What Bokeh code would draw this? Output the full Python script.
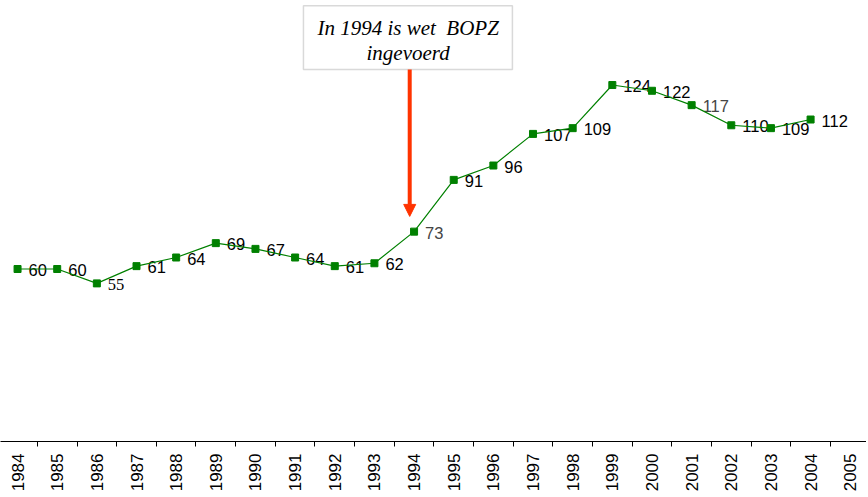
from bokeh.plotting import figure
from bokeh.models import (ColumnDataSource, Range1d, FixedTicker, BoxAnnotation,
                          Label, Arrow, NormalHead)
from bokeh.embed import file_html
from bokeh.resources import INLINE
import math

years = ["1984", "1985", "1986", "1987", "1988", "1989", "1990", "1991", "1992", "1993",
         "1994", "1995", "1996", "1997", "1998", "1999", "2000", "2001", "2002", "2003",
         "2004", "2005"]
values = [60, 60, 55, 61, 64, 69, 67, 64, 61, 62, 73, 91, 96, 107, 109, 124, 122, 117,
          110, 109, 112]

grey_labels = {"1994", "2001"}
serif_labels = {"1986"}

xs = list(range(len(values)))
src = ColumnDataSource(dict(
    x=xs,
    y=values,
    txt=[str(v) for v in values],
    col=["#454545" if years[i] in grey_labels else "#000000" for i in xs],
    font=["Liberation Serif" if years[i] in serif_labels else "Liberation Sans" for i in xs],
))

p = figure(frame_width=866, frame_height=441, output_backend="svg", toolbar_location=None,
           x_range=Range1d(-0.43, 21.41), y_range=Range1d(0, 153.4),
           min_border=0, min_border_left=0, min_border_right=0, min_border_top=0,
           min_border_bottom=0)
p.outline_line_color = None
p.xgrid.visible = False
p.ygrid.visible = False
p.yaxis.visible = False
p.background_fill_color = "white"

ax = p.xaxis[0]
ax.ticker = FixedTicker(ticks=list(range(len(years))),
                        minor_ticks=[i + 0.5 for i in range(-1, len(years))])
ax.major_label_overrides = {i: y for i, y in enumerate(years)}
ax.major_label_orientation = math.pi / 2
ax.major_tick_line_color = None
ax.major_tick_out = 5
ax.major_tick_in = 0
ax.minor_tick_line_color = "black"
ax.minor_tick_out = 5
ax.minor_tick_in = 0
ax.major_label_standoff = 7
ax.major_label_text_font = "Liberation Sans"
ax.major_label_text_font_size = "17px"
ax.major_label_text_color = "black"
ax.axis_line_color = "black"
ax.axis_line_width = 1

p.text(x="x", y="y", text="txt", source=src, text_color="col", text_font="font",
       text_font_size="16.5px", text_baseline="middle", text_align="left",
       x_offset=11, y_offset=1)
p.line(x="x", y="y", source=src, line_color="#008000", line_width=1.2)
p.scatter(x="x", y="y", source=src, marker="square", size=7,
          fill_color="#008000", line_color="#008000")

box = BoxAnnotation(left=7.21, right=12.48, top=151.6, bottom=129.4,
                    fill_color="white", fill_alpha=1.0,
                    line_color="#808080", line_width=1.5)
p.add_layout(box)
for txt, yy in [("In 1994 is wet\u00a0 BOPZ", 144.0), ("ingevoerd", 135.3)]:
    p.add_layout(Label(x=9.85, y=yy, text=txt, text_align="center", text_baseline="middle",
                       text_font="Liberation Serif", text_font_style="italic",
                       text_font_size="21px", text_color="black"))

p.add_layout(Arrow(end=NormalHead(size=12, fill_color="#FF3300", line_color="#FF3300"),
                   x_start=9.89, y_start=129.4, x_end=9.89, y_end=78.3,
                   line_color="#FF3300", line_width=4))

open("out.html", "w").write(file_html(p, INLINE))
